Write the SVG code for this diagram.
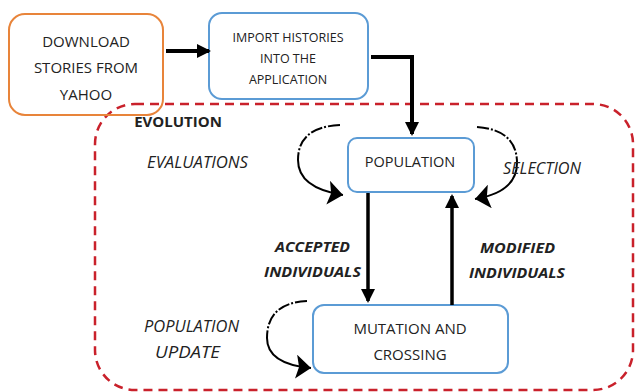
<svg xmlns="http://www.w3.org/2000/svg" width="635" height="392" viewBox="0 0 635 392">
<style>
.t{font-family:"Open Sans","Liberation Sans",sans-serif;fill:#222;text-anchor:middle}
.box{fill:#fff;stroke:#5B9BD5;stroke-width:2}
.it{font-style:italic}
.bd{font-weight:bold}
.thick{fill:none;stroke:#000;stroke-width:4}
.mid{fill:none;stroke:#000;stroke-width:3.5}
.loopd{fill:none;stroke:#000;stroke-width:2;stroke-dasharray:12 2 2 2}
.loops{fill:none;stroke:#000;stroke-width:2}
</style>
<defs>
<marker id="ah" markerUnits="userSpaceOnUse" markerWidth="14" markerHeight="14" viewBox="0 0 14 14" refX="12" refY="7" orient="auto">
<path d="M0,0 L14,7 L0,14 z" fill="#000"/>
</marker>
<marker id="ch" markerUnits="userSpaceOnUse" markerWidth="15" markerHeight="24" viewBox="0 0 15 24" refX="15" refY="12" orient="auto">
<path d="M0,0 L15,12 L0,24 L3,12 z" fill="#000"/>
</marker>
</defs>
<g id="evolution">
<rect x="95" y="104" width="538" height="286" rx="40" fill="none" stroke="#C9212B" stroke-width="2.5" stroke-dasharray="9 6"/>
<text class="t bd" x="178" y="127" font-size="15">EVOLUTION</text>
</g>
<g id="download">
<rect x="9" y="14" width="154" height="101" rx="16" fill="none" stroke="#E8843A" stroke-width="2"/>
<text class="t" x="86" y="47" font-size="15">DOWNLOAD</text>
<text class="t" x="86" y="73" font-size="15">STORIES FROM</text>
<text class="t" x="86" y="100" font-size="15">YAHOO</text>
</g>
<g id="import">
<rect x="209" y="13" width="159" height="86" rx="13" class="box"/>
<text class="t" x="288" y="42" font-size="12.5">IMPORT HISTORIES</text>
<text class="t" x="288" y="63" font-size="12.5">INTO THE</text>
<text class="t" x="288" y="84" font-size="12.5">APPLICATION</text>
</g>
<g id="population">
<rect x="348" y="138" width="126" height="54" rx="9" class="box"/>
<text class="t" x="410" y="167" font-size="14.5">POPULATION</text>
</g>
<g id="mutation">
<rect x="313" y="305" width="195" height="68" rx="11" class="box"/>
<text class="t" x="410" y="334" font-size="15">MUTATION AND</text>
<text class="t" x="410" y="360" font-size="15">CROSSING</text>
</g>
<g id="connectors">
<path class="thick" d="M166,51 L209,51" marker-end="url(#ah)"/>
<path class="thick" d="M371,57 L412,57 L412,134" marker-end="url(#ah)"/>
<path class="mid" d="M368,193 L368,301" marker-end="url(#ah)"/>
<path class="mid" d="M452,305 L452,196" marker-end="url(#ah)"/>
<path class="loopd" d="M340,125 Q298,127 298,160"/>
<path class="loops" d="M298,160 Q298,188 343,195" marker-end="url(#ch)"/>
<path class="loopd" d="M477,127 Q517,130 517,163"/>
<path class="loops" d="M517,163 Q517,192 475,199" marker-end="url(#ch)"/>
<path class="loopd" d="M307,301 Q267,303 267,338"/>
<path class="loops" d="M267,338 Q267,364 311,368" marker-end="url(#ch)"/>
</g>
<g id="labels">
<text class="t it" x="197.5" y="168" font-size="15.5" textLength="101" lengthAdjust="spacingAndGlyphs">EVALUATIONS</text>
<text class="t it" x="542" y="174" font-size="15.5" textLength="78" lengthAdjust="spacingAndGlyphs">SELECTION</text>
<text class="t it bd" x="312.5" y="252" font-size="15" textLength="75" lengthAdjust="spacingAndGlyphs">ACCEPTED</text>
<text class="t it bd" x="312.5" y="277" font-size="15" textLength="97" lengthAdjust="spacingAndGlyphs">INDIVIDUALS</text>
<text class="t it bd" x="517.5" y="253" font-size="15" textLength="75" lengthAdjust="spacingAndGlyphs">MODIFIED</text>
<text class="t it bd" x="517" y="278" font-size="15" textLength="96" lengthAdjust="spacingAndGlyphs">INDIVIDUALS</text>
<text class="t it" x="191.5" y="332" font-size="15.5" textLength="95" lengthAdjust="spacingAndGlyphs">POPULATION</text>
<text class="t it" x="187.5" y="358" font-size="15.5" textLength="65" lengthAdjust="spacingAndGlyphs">UPDATE</text>
</g>
</svg>
